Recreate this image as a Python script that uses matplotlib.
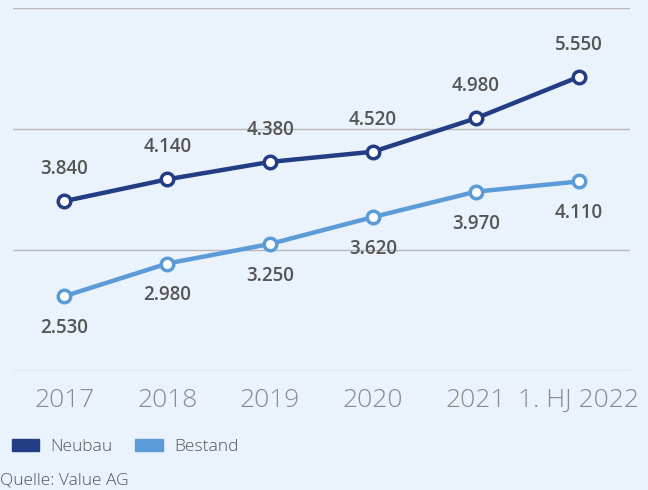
import matplotlib.pyplot as plt
from matplotlib.patches import Patch

# --- Daten ---
jahre = ["2017", "2018", "2019", "2020", "2021", "1. HJ 2022"]
neubau = [3840, 4140, 4380, 4520, 4980, 5550]
bestand = [2530, 2980, 3250, 3620, 3970, 4110]

farbe_neubau = "#233d85"
farbe_bestand = "#5b9bd8"
hintergrund = "#eaf2fb"
textfarbe = "#555555"

plt.rcParams["font.family"] = ["Open Sans", "DejaVu Sans"]

fig = plt.figure(figsize=(6.48, 4.9), dpi=100, facecolor=hintergrund)
ax = fig.add_axes([0.0201, 0.2429, 0.9522, 0.7408], facecolor=hintergrund)

x = list(range(len(jahre)))

def fmt(v):
    return f"{v:,}".replace(",", ".")

for werte, farbe, offset in [(neubau, farbe_neubau, 23), (bestand, farbe_bestand, -23)]:
    ax.plot(x, werte, color=farbe, lw=3.2, marker="o", ms=9, mfc="white",
            mec=farbe, mew=2.5, zorder=3)
    for xi, v in zip(x, werte):
        ax.annotate(fmt(v), (xi, v), xytext=(0, offset), textcoords="offset points",
                    ha="center", va="center", fontsize=13.5, fontweight="semibold",
                    color=textfarbe)

# --- Achsen ---
ax.set_xlim(-0.5, 5.5)
ax.set_ylim(1500, 6500)
ax.set_yticks([1500, 1500 + 5000 / 3, 1500 + 10000 / 3, 6500])
ax.yaxis.grid(True, color="#b9b9b9", lw=1)
ax.set_yticklabels([])
ax.tick_params(axis="y", length=0)
ax.set_xticks(x)
ax.set_xticklabels(jahre, fontsize=19, fontweight="light", color="#8a8a8a")
ax.tick_params(axis="x", length=0, pad=12)
for s in ax.spines.values():
    s.set_visible(False)
ax.set_axisbelow(True)

# --- Legende ---
handles = [Patch(color=farbe_neubau, label="Neubau"),
           Patch(color=farbe_bestand, label="Bestand")]
fig.legend(handles=handles, loc="center left", bbox_to_anchor=(0.018, 0.088),
           ncol=2, frameon=False, handlelength=1.6, handleheight=0.65,
           handletextpad=0.65, columnspacing=1.3, labelcolor=textfarbe,
           borderpad=0, borderaxespad=0,
           prop={"weight": "light", "size": 12.5})

fig.text(0.0, 0.02, "Quelle: Value AG", fontsize=12.5, fontweight="light",
         color=textfarbe, ha="left", va="center")

fig.savefig("out.png", dpi=100, facecolor=hintergrund)
